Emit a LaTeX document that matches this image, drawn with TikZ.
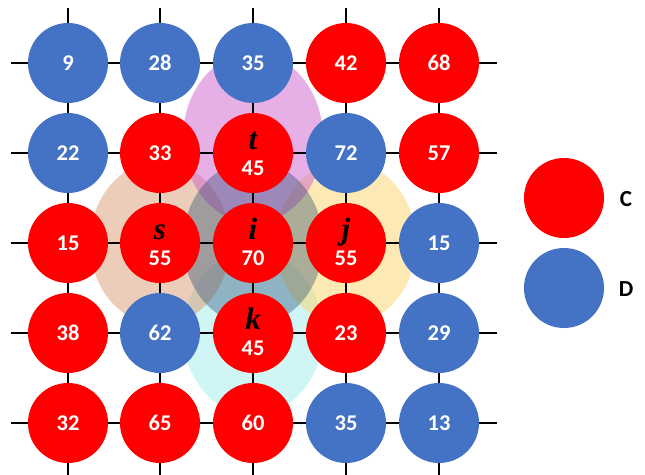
\documentclass[tikz,border=0pt]{standalone}
\usepackage{fontspec}
\setmainfont{Carlito}
\newfontfamily\letterfont{Liberation Serif}
\usetikzlibrary{calc}
\definecolor{cred}{RGB}{255,0,0}
\definecolor{cblue}{RGB}{68,114,196}
\definecolor{epink}{RGB}{205,97,205}
\definecolor{eorange}{RGB}{215,155,115}
\definecolor{eyellow}{RGB}{251,211,105}
\definecolor{ecyan}{RGB}{161,235,235}
\definecolor{ecenter}{RGB}{31,70,110}
\tikzset{
  dot/.style={circle, minimum size=80pt, inner sep=0pt, draw=none, text=white,
    font=\fontsize{22.5}{26}\selectfont\bfseries},
  rd/.style={dot, fill=cred},
  bl/.style={dot, fill=cblue},
  lett/.style={anchor=base, inner sep=0pt, text=black,
    font=\fontsize{31}{34}\selectfont\letterfont\bfseries\itshape},
  numlab/.style={anchor=base, inner sep=0pt, text=white,
    font=\fontsize{22.5}{26}\selectfont\bfseries},
  grid line/.style={draw=black, line width=1.2pt},
  legtext/.style={text=black, inner sep=0pt, font=\fontsize{23}{27}\selectfont\bfseries},
  blob/.style={opacity=0.5}
}
\begin{document}
\begin{tikzpicture}[x=1pt,y=-1pt]
\useasboundingbox (0,0) rectangle (645,474);
% translucent regions
\fill[ecyan, blob] (253,333) ellipse [x radius=70pt, y radius=82pt];
\fill[eorange, blob] (160,243) ellipse [x radius=70pt, y radius=82pt];
\fill[eyellow, blob] (346,243) ellipse [x radius=70pt, y radius=82pt];
\fill[epink, blob] (253,138) ellipse [x radius=70pt, y radius=85pt];
\fill[ecenter, opacity=0.37] (253,243) ellipse [x radius=70pt, y radius=82pt];
% grid coordinates
\foreach \c/\x in {1/68,2/160,3/253,4/346,5/439}{
  \coordinate (top\c) at (\x,8);
  \coordinate (bot\c) at (\x,480);
}
\foreach \r/\y in {1/63,2/153,3/243,4/333,5/423}{
  \coordinate (lft\r) at (11,\y);
  \coordinate (rgt\r) at (497,\y);
}
\foreach \i in {1,...,5}{
  \draw[grid line] (top\i) -- (bot\i);
  \draw[grid line] (lft\i) -- (rgt\i);
}
% row 1
\node[bl] (c11) at (68,63) {9};
\node[bl] (c12) at (160,63) {28};
\node[bl] (c13) at (253,63) {35};
\node[rd] (c14) at (346,63) {42};
\node[rd] (c15) at (439,63) {68};
% row 2
\node[bl] (c21) at (68,153) {22};
\node[rd] (c22) at (160,153) {33};
\node[rd] (c23) at (253,153) {};
\node[bl] (c24) at (346,153) {72};
\node[rd] (c25) at (439,153) {57};
% row 3
\node[rd] (c31) at (68,243) {15};
\node[rd] (c32) at (160,243) {};
\node[rd] (c33) at (253,243) {};
\node[rd] (c34) at (346,243) {};
\node[bl] (c35) at (439,243) {15};
% row 4
\node[rd] (c41) at (68,333) {38};
\node[bl] (c42) at (160,333) {62};
\node[rd] (c43) at (253,333) {};
\node[rd] (c44) at (346,333) {23};
\node[bl] (c45) at (439,333) {29};
% row 5
\node[rd] (c51) at (68,423) {32};
\node[rd] (c52) at (160,423) {65};
\node[rd] (c53) at (253,423) {60};
\node[bl] (c54) at (346,423) {35};
\node[bl] (c55) at (439,423) {13};
% labelled cells
\foreach \n/\l/\v in {c23/t/45, c32/s/55, c33/i/70, c34/j/55, c43/k/45}{
  \node[lett] (l\n) at ([yshift=3.5pt]\n.center) {\l};
  \node[numlab] (v\n) at ([yshift=-22.5pt]\n.center) {\v};
}
% legend
\node[rd] (legC) at (564,198) {};
\node[bl] (legD) at (564,288) {};
\node[legtext] (tC) at (626,199) {C};
\node[legtext] (tD) at (626,289) {D};
\end{tikzpicture}
\end{document}
